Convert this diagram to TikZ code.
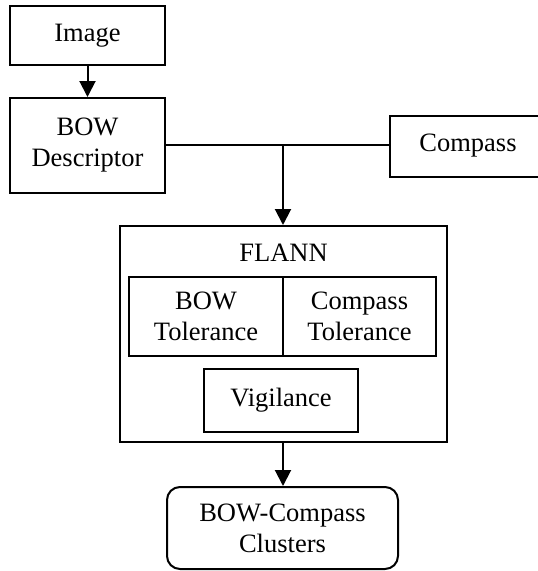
\documentclass[tikz,border=0pt]{standalone}
\usepackage{fontspec}
\setmainfont{Liberation Serif}
\usetikzlibrary{arrows.meta}
\begin{document}
\begin{tikzpicture}[x=1pt,y=-1pt,
  every node/.style={font=\fontsize{26.5}{31}\selectfont, align=center, inner sep=0pt},
  box/.style={draw, line width=2pt, rectangle},
  rbox/.style={draw, line width=2pt, rectangle, rounded corners=13pt},
  conn/.style={line width=2pt},
  arr/.style={line width=2pt, -{Triangle[length=16pt,width=16pt]}}]
\useasboundingbox (0,0) rectangle (538,571);
\clip (0,0) rectangle (538,571);
\node[box, minimum width=155pt, minimum height=59pt] (img) at (87.5,35.5) {Image};
\node[box, minimum width=155pt, minimum height=95pt] (bowd) at (87.5,145.5) {BOW\\Descriptor};
\node[box, minimum width=156pt, minimum height=61pt] (comp) at (468,146) {Compass};
\node[box, minimum width=327pt, minimum height=216pt] (flann) at (283.5,334) {};
\node (flannlbl) at (283.5,253) {FLANN};
\node[box, minimum width=154pt, minimum height=79pt] (bowt) at (206,316.5) {BOW\\Tolerance};
\node[box, minimum width=153pt, minimum height=79pt] (compt) at (359.5,316.5) {Compass\\Tolerance};
\node[box, minimum width=154pt, minimum height=63pt] (vig) at (281,400.5) {Vigilance};
\node[rbox, minimum width=231pt, minimum height=82pt] (clus) at (282.5,528) {BOW-Compass\\Clusters};
\coordinate (j) at (283,145);
\draw[arr] (img) -- (bowd);
\draw[conn] (bowd.east |- j) -- (comp.west |- j);
\draw[arr] (j) -- (j |- flann.north);
\draw[arr] (flann.south -| j) -- (j |- clus.north);
\end{tikzpicture}
\end{document}
